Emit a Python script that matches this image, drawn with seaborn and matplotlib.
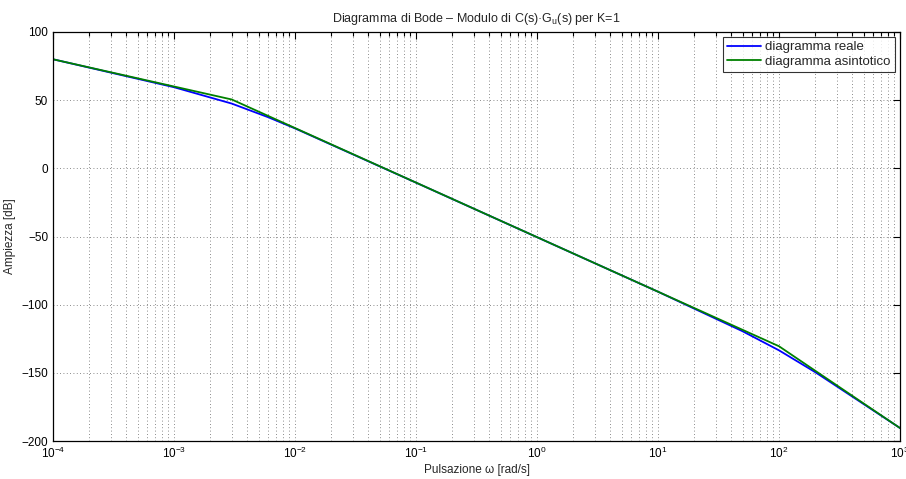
import matplotlib
matplotlib.use("Agg")
import matplotlib.pyplot as plt
import seaborn as sns
import pandas as pd
import numpy as np
from matplotlib.ticker import LogLocator, FixedLocator

# ---- data ----
w_real = [1e-4, 1e-3, 3e-3, 6e-3, 1e-2, 1e-1, 1e0, 1e1, 5e1, 1e2, 2e2, 1e3]
db_real = [80.0, 59.5, 47.5, 37.5, 29.3, -10.5, -50.5, -90.5, -119.5, -133.5, -149.6, -190.5]

w_asym = [1e-4, 3e-3, 1e2, 1e3]
db_asym = [80.0, 50.5, -130.5, -190.5]

series_names = ["diagramma reale", "diagramma asintotico"]
series_colors = ["#0000ff", "#008000"]

yticks = [-200, -150, -100, -50, 0, 50, 100]

df = pd.concat([
    pd.DataFrame({"w": w_real, "dB": db_real, "serie": series_names[0]}),
    pd.DataFrame({"w": w_asym, "dB": db_asym, "serie": series_names[1]}),
], ignore_index=True)

sns.set_style("white")
plt.rcParams["font.family"] = ["Liberation Sans", "DejaVu Sans"]
plt.rcParams["mathtext.default"] = "regular"
plt.rcParams["mathtext.fontset"] = "custom"
plt.rcParams["mathtext.rm"] = "Liberation Sans"
plt.rcParams["mathtext.it"] = "Liberation Sans"

fig = plt.figure(figsize=(9.06, 4.79), dpi=100)
ax = fig.add_axes([53/906, 1 - 441/479, (900 - 53)/906, (441 - 32)/479])

sns.lineplot(data=df, x="w", y="dB", hue="serie", palette=dict(zip(series_names, series_colors)),
             ax=ax, linewidth=1.3, sort=False, estimator=None)

ax.set_xscale("log")
ax.set_xlim(1e-4, 1e3)
ax.set_ylim(-200, 100)
ax.yaxis.set_major_locator(FixedLocator(yticks))
ax.xaxis.set_major_locator(LogLocator(base=10, numticks=20))
ax.xaxis.set_minor_locator(LogLocator(base=10, subs=np.arange(2, 10), numticks=100))

ax.grid(True, which="major", axis="both", color="#666666", linestyle=(0, (1, 3)), linewidth=0.6)
ax.grid(True, which="minor", axis="x", color="#666666", linestyle=(0, (1, 3)), linewidth=0.6)

ax.tick_params(which="both", direction="in", top=True, right=True, labelsize=8.5, colors="black")
ax.tick_params(which="major", length=5, width=0.8)
ax.tick_params(which="minor", length=3, width=0.8)
for s in ax.spines.values():
    s.set_visible(True)
    s.set_color("black")
    s.set_linewidth(0.9)

ax.set_xlabel("Pulsazione ω [rad/s]", fontsize=8.5, labelpad=2)
ax.set_ylabel("Ampiezza [dB]", fontsize=8.5, labelpad=4)
ax.set_title("Diagramma di Bode – Modulo di C(s)·G$_{u}$(s) per K=1", fontsize=9, pad=7)

leg = ax.legend(loc="upper right", fontsize=9.5, frameon=True, fancybox=False,
                borderaxespad=0.35, handlelength=2.6, borderpad=0.35, labelspacing=0.15,
                handletextpad=0.3)
leg.get_frame().set_edgecolor("black")
leg.get_frame().set_linewidth(0.8)
leg.set_title(None)

fig.savefig("out.png", dpi=100)
